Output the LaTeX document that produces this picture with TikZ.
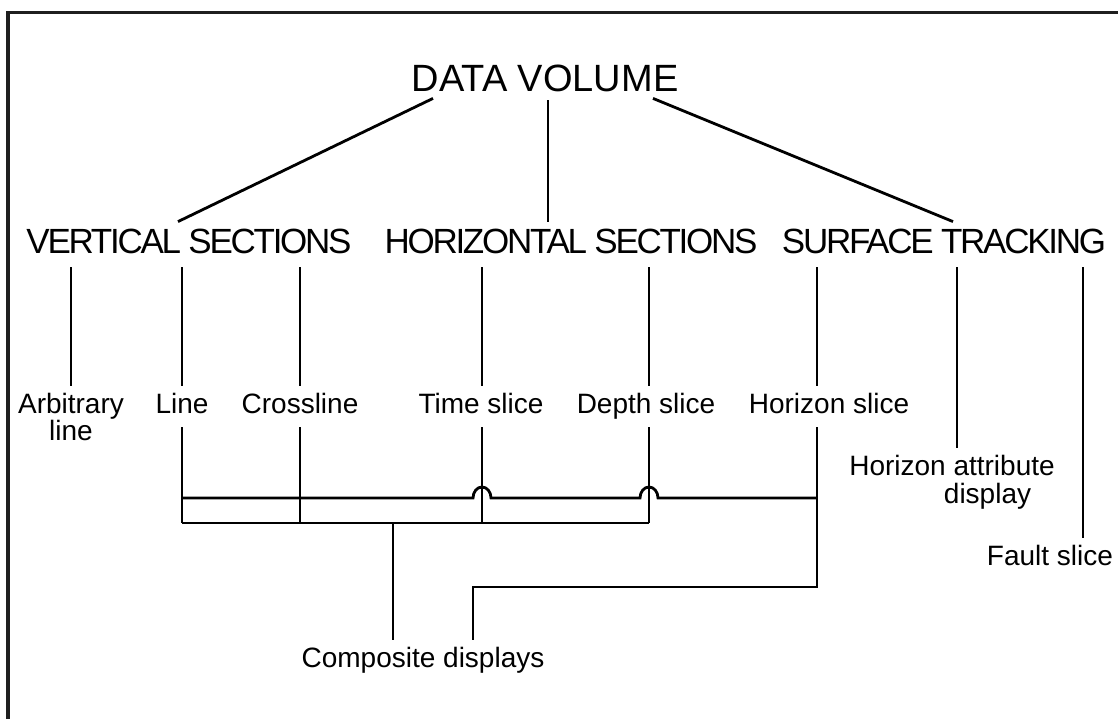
\documentclass[tikz,border=0pt]{standalone}
\usepackage{fontspec}
\setmainfont{Liberation Sans}
\newfontfamily\headfont[LetterSpace=-6.5]{Liberation Sans}
\usetikzlibrary{calc}
\begin{document}
\begin{tikzpicture}[x=1pt,y=-1pt,line width=2.8pt,
  top/.style={font=\fontsize{38}{40}\selectfont, inner xsep=0pt, inner ysep=5pt,
    text height=28pt, text depth=0pt, anchor=base},
  heading/.style={font=\headfont\fontsize{35}{38}\selectfont, inner xsep=0pt, inner ysep=6pt,
    text height=25pt, text depth=6pt, anchor=base},
  leaf/.style={font=\fontsize{28}{27.5}\selectfont, inner xsep=0pt, inner ysep=6pt,
    text height=20pt, text depth=7pt, anchor=base},
  leaftwo/.style={font=\fontsize{28}{27.5}\selectfont, inner xsep=0pt, inner ysep=6pt,
    align=center, anchor=base},
  link/.style={draw=black, line cap=butt, line join=miter},
]
\useasboundingbox (0,0) rectangle (1118,719);
% outer frame (runs off the right and bottom edges)
\draw[line width=3.2pt, draw=black!88] (8,12.5) rectangle (1140,740);

% top and first level
\node[top] (dv) at (545,92) {DATA VOLUME};
\node[heading] (vs) at (189,254) {VERTICAL SECTIONS};
\node[heading] (hs) at (571,254) {HORIZONTAL SECTIONS};
\node[heading] (st) at (944,254) {SURFACE TRACKING};

% second level (two-line labels are placed by their last baseline)
\node[leaftwo] (arb) at (71,440.5) {Arbitrary\\line};
\node[leaf] (line) at (182,413) {Line};
\node[leaf] (cross) at (300,413) {Crossline};
\node[leaf] (time) at (481,413) {Time slice};
\node[leaf] (depth) at (646,413) {Depth slice};
\node[leaf] (hsl) at (829,413) {Horizon slice};
\node[leaftwo] (hattr) at (952,503) {Horizon attribute\\\hspace*{71pt}display};
\node[leaf] (fault) at (1050,565) {Fault slice};
\node[leaf] (comp) at (423,667) {Composite displays};

% column positions of the vertical connectors
\coordinate (cArb) at (71,0);
\coordinate (cLine) at (182,0);
\coordinate (cCross) at (300,0);
\coordinate (cT) at (482,0);
\coordinate (cD) at (649,0);
\coordinate (cH) at (817,0);
\coordinate (cHA) at (957,0);
\coordinate (cF) at (1083,0);
\coordinate (cComp) at (393,0);
\coordinate (cJog) at (473,0);
% the two collecting buses and the jog level
\coordinate (busU) at (0,498);
\coordinate (busL) at (0,523);
\coordinate (jog) at (0,587);

% data volume to the three families
\draw[link] ([xshift=-112pt]dv.south) -- ([xshift=-11pt]vs.north);
\draw[link] ([xshift=3pt,yshift=-2pt]dv.south) -- ([xshift=-23pt]hs.north);
\draw[link] ([xshift=108pt]dv.south) -- ([xshift=9pt]st.north);

% families to their displays
\draw[link] (cArb |- vs.south) -- (cArb |- line.north);
\draw[link] (cLine |- vs.south) -- (cLine |- line.north);
\draw[link] (cCross |- vs.south) -- (cCross |- cross.north);
\draw[link] (cT |- hs.south) -- (cT |- time.north);
\draw[link] (cD |- hs.south) -- (cD |- depth.north);
\draw[link] (cH |- st.south) -- (cH |- hsl.north);
\draw[link] (cHA |- st.south) -- (cHA |- hattr.north);
\draw[link] (cF |- st.south) -- (cF |- fault.north);

% displays down to the lower bus
\draw[link] (cLine |- line.south) -- (cLine |- busL);
\draw[link] (cCross |- cross.south) -- (cCross |- busL);
\draw[link] (cT |- time.south) -- (cT |- busL);
\draw[link] (cD |- depth.south) -- (cD |- busL);
\draw[link] (cLine |- busL) -- (cD |- busL);

% upper bus, hopping over the time and depth slice connectors
\draw[link] (cLine |- busU)
  -- ($(cT |- busU)+(-9,0)$) arc[start angle=180, end angle=0, x radius=9pt, y radius=11pt]
  -- ($(cD |- busU)+(-9,0)$) arc[start angle=180, end angle=0, x radius=9pt, y radius=11pt]
  -- (cH |- busU);

% horizon slice down and across to composite displays
\draw[link] (cH |- hsl.south) -- (cH |- jog) -- (cJog |- jog) -- (cJog |- comp.north);
\draw[link] (cComp |- busL) -- (cComp |- comp.north);
\end{tikzpicture}
\end{document}
